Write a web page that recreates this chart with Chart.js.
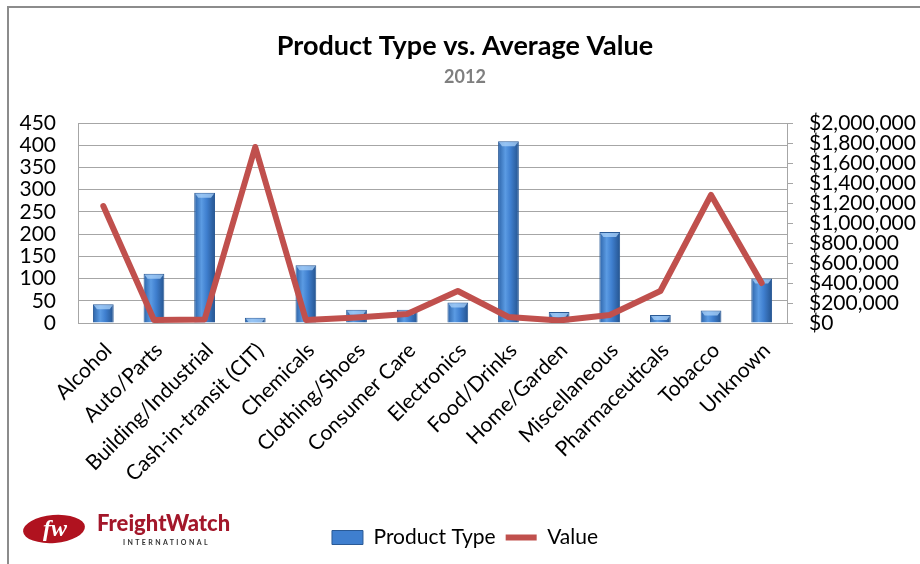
<!DOCTYPE html>
<html>
<head>
<meta charset="utf-8">
<script src="https://cdn.jsdelivr.net/npm/chart.js@4.4.1/dist/chart.umd.min.js"></script>
<style>
  html, body { margin: 0; padding: 0; background: #fff; }
  #wrap { width: 920px; height: 564px; position: relative; }
</style>
</head>
<body>
<div id="wrap"><canvas id="myChart" width="920" height="564"></canvas></div>
<script>
const categories = ['Alcohol', 'Auto/Parts', 'Building/Industrial', 'Cash-in-transit (CIT)', 'Chemicals',
  'Clothing/Shoes', 'Consumer Care', 'Electronics', 'Food/Drinks', 'Home/Garden', 'Miscellaneous',
  'Pharmaceuticals', 'Tobacco', 'Unknown'];
const productType = [42, 111, 293, 12, 130, 30, 30, 46, 409, 25, 205, 18, 28, 100];
const avgValue = [1170000, 30000, 35000, 1760000, 30000, 55000, 90000, 320000, 60000, 25000, 80000, 320000, 1280000, 400000];
const leftTicks = [0, 50, 100, 150, 200, 250, 300, 350, 400, 450];
const rightTicks = [0, 200000, 400000, 600000, 800000, 1000000, 1200000, 1400000, 1600000, 1800000, 2000000];

const FONT = 'Lato';
const BAR_FRACTION = 0.41;

// blue cylinder look, gradient across each bar
function barGradient(context) {
  const chart = context.chart;
  const xScale = chart.scales.x;
  if (!xScale || context.dataIndex === undefined) return '#3f7fcf';
  const cx = xScale.getPixelForValue(context.dataIndex);
  const half = (xScale.width / categories.length) * BAR_FRACTION / 2;
  const g = chart.ctx.createLinearGradient(cx - half, 0, cx + half, 0);
  g.addColorStop(0, '#2c63a8');
  g.addColorStop(0.35, '#5b9be3');
  g.addColorStop(0.6, '#3f7fcf');
  g.addColorStop(1, '#25548f');
  return g;
}

// frame lines, bar top bevel and logo
const decor = {
  id: 'decor',
  beforeDraw(chart) {
    const ctx = chart.ctx;
    ctx.save();
    ctx.fillStyle = '#fff';
    ctx.fillRect(0, 0, chart.width, chart.height);
    ctx.strokeStyle = '#8c8c8c';
    ctx.lineWidth = 2;
    ctx.beginPath();
    ctx.moveTo(8, chart.height);
    ctx.lineTo(8, 7);
    ctx.lineTo(chart.width, 7);
    ctx.stroke();
    ctx.restore();
  },
  afterDatasetDraw(chart, args) {
    if (args.index !== 0) return;
    const ctx = chart.ctx;
    ctx.save();
    args.meta.data.forEach(bar => {
      const h = Math.min(5, bar.base - bar.y);
      const l = bar.x - bar.width / 2 + 1, r = bar.x + bar.width / 2 - 1;
      ctx.fillStyle = 'rgba(170, 210, 250, 0.75)';
      ctx.beginPath();
      ctx.moveTo(l, bar.y + 1);
      ctx.lineTo(r, bar.y + 1);
      ctx.lineTo(r - 3, bar.y + h);
      ctx.lineTo(l + 3, bar.y + h);
      ctx.closePath();
      ctx.fill();
    });
    ctx.restore();
  },
  afterDraw(chart) {
    const ctx = chart.ctx;
    ctx.save();
    ctx.fillStyle = '#b0121f';
    ctx.beginPath();
    ctx.ellipse(54, 529, 31, 14, -0.08, 0, Math.PI * 2);
    ctx.fill();
    ctx.fillStyle = '#fff';
    ctx.font = 'italic bold 24px "Liberation Serif"';
    ctx.textAlign = 'center';
    ctx.textBaseline = 'middle';
    ctx.fillText('fw', 55, 530);
    ctx.fillStyle = '#a3172a';
    ctx.font = '900 22px ' + FONT;
    ctx.textAlign = 'left';
    ctx.textBaseline = 'alphabetic';
    ctx.fillText('FreightWatch', 97, 531);
    ctx.fillStyle = '#333';
    ctx.font = 'bold 7px ' + FONT;
    ctx.letterSpacing = '2.4px';
    ctx.fillText('INTERNATIONAL', 123, 545);
    ctx.restore();
  }
};

const canvas = document.getElementById('myChart');
const ctx = canvas.getContext('2d');
const myChart = new Chart(ctx, {
  type: 'bar',
  data: {
    labels: categories,
    datasets: [{
      type: 'bar',
      label: 'Product Type',
      data: productType,
      yAxisID: 'y',
      order: 2,
      backgroundColor: barGradient,
      borderColor: '#2a5a96',
      borderWidth: 1,
      categoryPercentage: 1,
      barPercentage: BAR_FRACTION
    }, {
      type: 'line',
      label: 'Value',
      data: avgValue,
      yAxisID: 'y1',
      order: 1,
      borderColor: '#c0504d',
      backgroundColor: '#c0504d',
      borderWidth: 6,
      borderJoinStyle: 'round',
      borderCapStyle: 'round',
      pointRadius: 0,
      tension: 0
    }]
  },
  options: {
    responsive: false,
    animation: false,
    layout: { padding: { left: 10, right: 0, top: 8, bottom: 6 } },
    plugins: {
      title: {
        display: true,
        text: 'Product Type vs. Average Value',
        color: '#000',
        font: { family: FONT, size: 27, weight: 'bold' },
        padding: { top: 22, bottom: 2 }
      },
      subtitle: {
        display: true,
        text: '2012',
        color: '#7f7f7f',
        font: { family: FONT, size: 18, weight: 'bold' },
        padding: { top: 2, bottom: 35 }
      },
      legend: {
        position: 'bottom',
        sort: (a, b) => a.datasetIndex - b.datasetIndex,
        labels: {
          color: '#000',
          font: { family: FONT, size: 21 },
          usePointStyle: true,
          pointStyleWidth: 31,
          boxHeight: 14,
          padding: 10,
          generateLabels(chart) {
            return [{
              text: 'Product Type', datasetIndex: 0, pointStyle: 'rect',
              fillStyle: '#3f7fcf', strokeStyle: '#2a5a96', lineWidth: 1, fontColor: '#000'
            }, {
              text: 'Value', datasetIndex: 1, pointStyle: 'line',
              fillStyle: '#c0504d', strokeStyle: '#c0504d', lineWidth: 6, fontColor: '#000'
            }];
          }
        }
      },
      tooltip: { enabled: false }
    },
    scales: {
      x: {
        grid: { display: false },
        border: { display: true, color: '#a6a6a6' },
        ticks: {
          autoSkip: false,
          minRotation: 45,
          maxRotation: 45,
          padding: 7,
          labelOffset: 5,
          color: '#000',
          font: { family: FONT, size: 21 }
        },
        afterFit(scale) { scale.height = 194; }
      },
      y: {
        position: 'left',
        min: 0,
        max: 450,
        afterBuildTicks(scale) { scale.ticks = leftTicks.map(v => ({ value: v })); },
        grid: { color: '#a6a6a6', drawTicks: false },
        border: { display: true, color: '#a6a6a6' },
        ticks: {
          autoSkip: false,
          padding: 22,
          color: '#000',
          font: { family: FONT, size: 21 }
        },
        afterFit(scale) { scale.width = 68; }
      },
      y1: {
        position: 'right',
        min: 0,
        max: 2000000,
        afterBuildTicks(scale) { scale.ticks = rightTicks.map(v => ({ value: v })); },
        grid: { drawOnChartArea: false, drawTicks: true, tickLength: 6, color: '#a6a6a6' },
        border: { display: true, color: '#a6a6a6' },
        ticks: {
          autoSkip: false,
          padding: 16,
          color: '#000',
          font: { family: FONT, size: 21 },
          callback: v => '$' + Number(v).toLocaleString('en-US')
        },
        afterFit(scale) { scale.width = 133; }
      }
    }
  },
  plugins: [decor]
});
</script>
</body>
</html>
